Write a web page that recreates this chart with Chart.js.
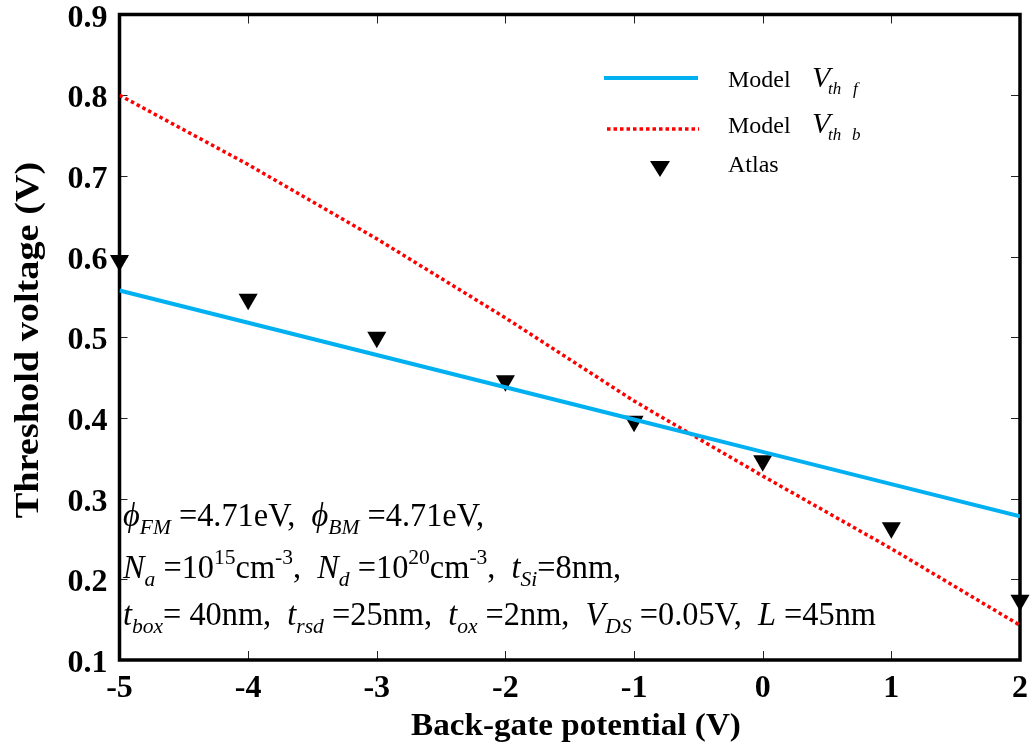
<!DOCTYPE html>
<html>
<head>
<meta charset="utf-8">
<script src="https://cdn.jsdelivr.net/npm/chart.js@4.4.0/dist/chart.umd.min.js"></script>
<style>
  html, body { margin: 0; padding: 0; background: #fff; }
</style>
</head>
<body>
<canvas id="vth" width="1031" height="750"></canvas>
<script>
// back-gate bias (V) and threshold voltages (V)
const backGate = [-5, -4, -3, -2, -1, 0, 1, 2];
const vthFront = [0.558, 0.518, 0.478, 0.438, 0.398, 0.358, 0.318, 0.278];
const vthBack  = [0.800, 0.714, 0.622, 0.524, 0.421, 0.328, 0.238, 0.143];
const atlasVth = [0.595, 0.547, 0.500, 0.446, 0.396, 0.347, 0.264, 0.174];

const xTicks = [-5, -4, -3, -2, -1, 0, 1, 2];
const yTicks = [0.1, 0.2, 0.3, 0.4, 0.5, 0.6, 0.7, 0.8, 0.9];

const SERIF = '"Liberation Serif", "Times New Roman", serif';
const BLUE = '#00b0f0';
const RED = '#ff0000';

const pts = ys => backGate.map((x, i) => ({ x, y: ys[i] }));

// draw a row of text pieces (sub/superscripts, italics) one after another
function drawRuns(ctx, x, y, runs, sx) {
  ctx.save();
  ctx.translate(x, y);
  ctx.scale(sx, 1);
  ctx.textBaseline = 'alphabetic';
  ctx.textAlign = 'left';
  let cx = 0;
  runs.forEach(r => {
    ctx.font = (r.i ? 'italic ' : '') + (r.s || 33) + 'px ' + SERIF;
    if (r.at !== undefined) cx = r.at;
    ctx.fillText(r.t, cx, r.dy || 0);
    cx += ctx.measureText(r.t).width;
  });
  ctx.restore();
}

const sub = t => ({ t, i: true, s: 22, dy: 8 });
const sup = t => ({ t, s: 22, dy: -14 });
const it = t => ({ t, i: true });
const tx = t => ({ t });

const noteLines = [
  [it('ϕ'), sub('FM'), tx(' =4.71eV,  '), it('ϕ'), sub('BM'), tx(' =4.71eV,')],
  [it('N'), sub('a'), tx(' =10'), sup('15'), tx('cm'), sup('-3'), tx(',  '),
   it('N'), sub('d'), tx(' =10'), sup('20'), tx('cm'), sup('-3'), tx(',  '),
   it('t'), sub('Si'), tx('=8nm,')],
  [it('t'), sub('box'), tx('= 40nm,  '), it('t'), sub('rsd'), tx(' =25nm,  '),
   it('t'), sub('ox'), tx(' =2nm,  '), it('V'), sub('DS'), tx(' =0.05V,  '),
   it('L'), tx(' =45nm')]
];

const decor = {
  id: 'decor',
  beforeDatasetsDraw(chart) {
    const { ctx, chartArea: a, scales: { x, y } } = chart;
    ctx.save();
    ctx.strokeStyle = '#222';
    ctx.lineWidth = 1;
    ctx.beginPath();
    yTicks.forEach(v => {
      const py = Math.round(y.getPixelForValue(v)) + 0.5;
      ctx.moveTo(a.left, py); ctx.lineTo(a.left + 8, py);
      ctx.moveTo(a.right, py); ctx.lineTo(a.right - 9, py);
    });
    xTicks.forEach(v => {
      const px = Math.round(x.getPixelForValue(v)) + 0.5;
      ctx.moveTo(px, a.bottom); ctx.lineTo(px, a.bottom - 9);
      ctx.moveTo(px, a.top); ctx.lineTo(px, a.top + 9);
    });
    ctx.stroke();
    ctx.lineWidth = 3.5;
    ctx.strokeStyle = '#000';
    ctx.strokeRect(a.left, a.top, a.right - a.left, a.bottom - a.top);
    ctx.restore();
  },
  afterDraw(chart) {
    const { ctx, chartArea: a, scales: { x, y } } = chart;
    ctx.save();
    ctx.fillStyle = '#000';

    // tick labels
    ctx.font = 'bold 32px ' + SERIF;
    ctx.textBaseline = 'alphabetic';
    ctx.textAlign = 'right';
    yTicks.forEach(v => ctx.fillText(v.toFixed(1), a.left - 12, y.getPixelForValue(v) + 12));
    ctx.textAlign = 'center';
    xTicks.forEach(v => ctx.fillText(String(v), x.getPixelForValue(v), 697));

    // axis titles
    ctx.font = 'bold 31px ' + SERIF;
    ctx.save();
    ctx.translate(576, 735);
    ctx.scale(1.07, 1);
    ctx.fillText('Back-gate potential (V)', 0, 0);
    ctx.restore();

    ctx.save();
    ctx.font = 'bold 33px ' + SERIF;
    ctx.translate(29, 340);
    ctx.rotate(-Math.PI / 2);
    ctx.scale(1.16, 1);
    ctx.textBaseline = 'middle';
    ctx.fillText('Threshold voltage (V)', 0, 0);
    ctx.restore();

    // legend
    ctx.lineWidth = 4;
    ctx.strokeStyle = BLUE;
    ctx.beginPath(); ctx.moveTo(604, 78); ctx.lineTo(698, 78); ctx.stroke();
    ctx.lineWidth = 3.5;
    ctx.strokeStyle = RED;
    ctx.setLineDash([3.5, 3]);
    ctx.beginPath(); ctx.moveTo(607, 129); ctx.lineTo(699, 129); ctx.stroke();
    ctx.setLineDash([]);
    ctx.beginPath();
    ctx.moveTo(650, 161); ctx.lineTo(670, 161); ctx.lineTo(660, 177);
    ctx.closePath(); ctx.fill();

    drawRuns(ctx, 728, 87, [{ t: 'Model', s: 24 }, { t: 'V', i: true, s: 30, at: 84 },
      { t: 'th', i: true, s: 17, dy: 7, at: 100 }, { t: 'f', i: true, s: 17, dy: 7, at: 125 }], 1);
    drawRuns(ctx, 728, 133, [{ t: 'Model', s: 24 }, { t: 'V', i: true, s: 30, at: 84 },
      { t: 'th', i: true, s: 17, dy: 7, at: 100 }, { t: 'b', i: true, s: 17, dy: 7, at: 124 }], 1);
    drawRuns(ctx, 728, 172, [{ t: 'Atlas', s: 24 }], 1);

    // device parameters
    const base = [526, 578, 625];
    noteLines.forEach((runs, k) => drawRuns(ctx, 123, base[k], runs, 0.98));
    ctx.restore();
  }
};

new Chart(document.getElementById('vth'), {
  type: 'scatter',
  data: {
    datasets: [
      {
        label: 'Model Vth f',
        data: pts(vthFront),
        showLine: true,
        borderColor: BLUE,
        borderWidth: 4,
        pointRadius: 0,
        tension: 0
      },
      {
        label: 'Model Vth b',
        data: pts(vthBack),
        showLine: true,
        borderColor: RED,
        borderWidth: 3.5,
        borderDash: [3.5, 3],
        borderCapStyle: 'butt',
        pointRadius: 0,
        tension: 0
      },
      {
        label: 'Atlas',
        data: pts(atlasVth),
        showLine: false,
        pointStyle: 'triangle',
        rotation: 180,
        pointRadius: 11,
        pointBackgroundColor: '#000',
        pointBorderWidth: 0,
        clip: false
      }
    ]
  },
  options: {
    responsive: false,
    animation: false,
    layout: { padding: { top: 14.5, right: 9, left: 0, bottom: 0 } },
    plugins: { legend: { display: false }, tooltip: { enabled: false } },
    scales: {
      x: {
        type: 'linear',
        min: -5,
        max: 2,
        afterBuildTicks: s => { s.ticks = xTicks.map(v => ({ value: v })); },
        afterFit: s => { s.height = 90; },
        grid: { display: false, drawTicks: false },
        border: { display: false },
        ticks: { display: false }
      },
      y: {
        min: 0.1,
        max: 0.9,
        afterBuildTicks: s => { s.ticks = yTicks.map(v => ({ value: v })); },
        afterFit: s => { s.width = 119.5; },
        grid: { display: false, drawTicks: false },
        border: { display: false },
        ticks: { display: false }
      }
    }
  },
  plugins: [decor]
});
</script>
</body>
</html>
